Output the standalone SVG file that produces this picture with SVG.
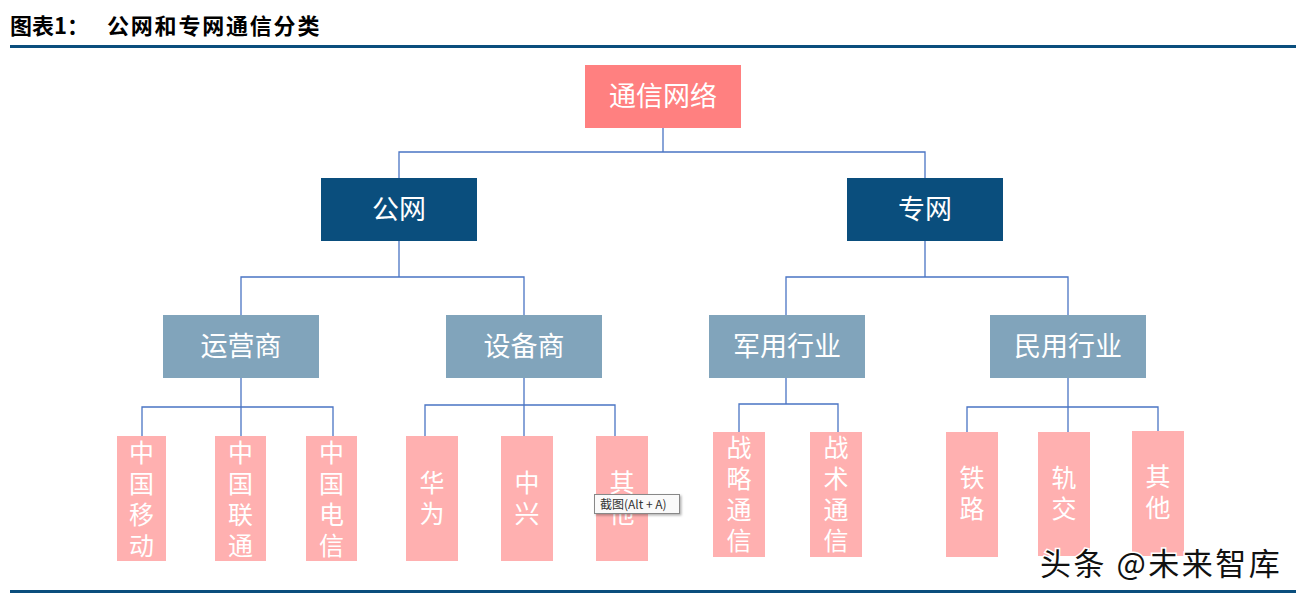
<svg xmlns="http://www.w3.org/2000/svg" width="1296" height="597" viewBox="0 0 1296 597">
<defs>
<style>
.t{font-family:"Noto Sans CJK SC","Microsoft YaHei",sans-serif;fill:#fff;text-anchor:middle}
.lv1{fill:#FF8080}
.lv2{fill:#0A4E7D}
.lv3{fill:#81A4BB}
.lv4{fill:#FFB0B0}
.big{font-size:27px}
.v{font-size:25px;writing-mode:tb;letter-spacing:6px;text-anchor:start}
.c{fill:none;stroke:#4A74C4;stroke-width:1.3}
</style>
<filter id="sh" x="-10%" y="-20%" width="130%" height="160%"><feDropShadow dx="1.5" dy="1.5" stdDeviation="1" flood-color="#000" flood-opacity="0.3"/></filter>
</defs>
<rect width="1296" height="597" fill="#fff"/>
<g font-family="'Noto Sans CJK SC',sans-serif" font-weight="bold" font-size="22" fill="#000">
<text x="10" y="34">图表1：</text>
<text x="107" y="34" letter-spacing="1.8">公网和专网通信分类</text>
</g>
<rect x="10" y="45" width="1286" height="3" fill="#0A4E7D"/>
<rect x="10" y="590" width="1286" height="3" fill="#0A4E7D"/>

<g id="connectors">
<path class="c" d="M663,128V152M399,178V152H925V178"/>
<path class="c" d="M399,241V277M241,315V277H524V315"/>
<path class="c" d="M925,241V277M786,315V277H1068V315"/>
<path class="c" d="M241,378V436M142,436V407H333V436"/>
<path class="c" d="M524,378V436M425,436V405H615V436"/>
<path class="c" d="M786,378V404M739,432V404H838V432"/>
<path class="c" d="M1068,378V432M967,432V407H1158V431"/>
</g>

<g id="n-root"><rect class="lv1" x="585" y="65" width="156" height="63"/><text class="t big" x="663" y="106">通信网络</text></g>
<g id="n-public"><rect class="lv2" x="321" y="178" width="156" height="63"/><text class="t big" x="399" y="219">公网</text></g>
<g id="n-private"><rect class="lv2" x="847" y="178" width="156" height="63"/><text class="t big" x="925" y="219">专网</text></g>
<g id="n-operator"><rect class="lv3" x="163" y="315" width="156" height="63"/><text class="t big" x="241" y="356">运营商</text></g>
<g id="n-equip"><rect class="lv3" x="446" y="315" width="156" height="63"/><text class="t big" x="524" y="356">设备商</text></g>
<g id="n-military"><rect class="lv3" x="709" y="315" width="156" height="63"/><text class="t big" x="787" y="356">军用行业</text></g>
<g id="n-civil"><rect class="lv3" x="990" y="315" width="156" height="63"/><text class="t big" x="1068" y="356">民用行业</text></g>

<g id="n-cmcc"><rect class="lv4" x="117" y="436" width="49" height="125"/><text class="t v" x="141.5" y="440">中国移动</text></g>
<g id="n-cucc"><rect class="lv4" x="215" y="436" width="51" height="125"/><text class="t v" x="240.5" y="440">中国联通</text></g>
<g id="n-ctcc"><rect class="lv4" x="306" y="436" width="51" height="125"/><text class="t v" x="331.5" y="440">中国电信</text></g>
<g id="n-huawei"><rect class="lv4" x="406" y="436" width="52" height="125"/><text class="t v" x="432" y="470">华为</text></g>
<g id="n-zte"><rect class="lv4" x="501" y="436" width="52" height="125"/><text class="t v" x="527" y="470">中兴</text></g>
<g id="n-other1"><rect class="lv4" x="596" y="436" width="52" height="125"/><text class="t v" x="622" y="470">其他</text></g>
<g id="n-strategic"><rect class="lv4" x="713" y="432" width="52" height="125"/><text class="t v" x="739" y="435">战略通信</text></g>
<g id="n-tactical"><rect class="lv4" x="810" y="432" width="52" height="125"/><text class="t v" x="836" y="435">战术通信</text></g>
<g id="n-rail"><rect class="lv4" x="946" y="432" width="52" height="125"/><text class="t v" x="972" y="465">铁路</text></g>
<g id="n-transit"><rect class="lv4" x="1038" y="432" width="52" height="124"/><text class="t v" x="1064" y="465">轨交</text></g>
<g id="n-other2"><rect class="lv4" x="1132" y="431" width="52" height="125"/><text class="t v" x="1158" y="464">其他</text></g>

<g id="tooltip"><rect x="594.5" y="494.5" width="85" height="19" fill="#fafafa" stroke="#888" stroke-width="1" filter="url(#sh)"/><text x="600" y="509" font-family="'Noto Sans CJK SC',sans-serif" font-size="12" fill="#333">截图(Alt + A)</text></g>

<g id="watermark"><text x="1040" y="575" font-family="'Noto Sans CJK SC',sans-serif" font-size="31" fill="#111" stroke="#fff" stroke-width="3" paint-order="stroke" letter-spacing="2.5">头条 @未来智库</text></g>
</svg>
